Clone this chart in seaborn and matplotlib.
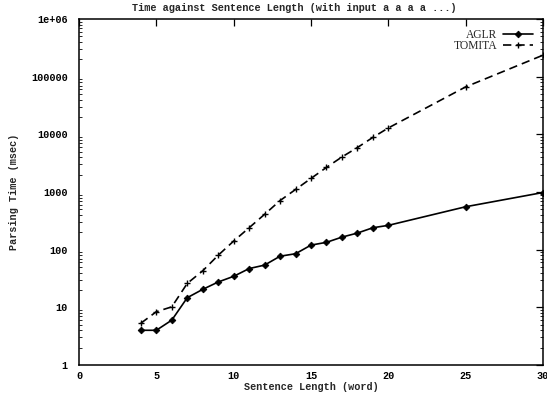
import matplotlib
matplotlib.use("Agg")
import matplotlib.pyplot as plt
import matplotlib.ticker as mticker
import seaborn as sns
import pandas as pd

# Sentence lengths (words) and parsing times (msec)
aglr_len = [4, 5, 6, 7, 8, 9, 10, 11, 12, 13, 14, 15, 16, 17, 18, 19, 20, 25, 30]
aglr_time = [4, 4, 6, 14.7, 20.5, 27.5, 34.5, 47, 54, 77, 85, 120, 134, 165, 194, 240, 264, 555, 980]

tomita_len = [4, 5, 6, 7, 8, 9, 10, 11, 12, 13, 14, 15, 16, 17, 18, 19, 20, 25, 30]
tomita_time = [5.3, 8.4, 10.2, 26, 43, 80, 141, 240, 410, 710, 1105, 1720, 2670, 4050, 5900, 8850, 12900, 66500, 236000]

x_ticks = [0, 5, 10, 15, 20, 25, 30]
y_ticks = [1, 10, 100, 1000, 10000, 100000, 1000000]
y_tick_labels = ["1", "10", "100", "1000", "10000", "100000", "1e+06"]

title = "Time against Sentence Length (with input a a a a ...)"
x_label = "Sentence Length (word)"
y_label = "Parsing Time (msec)"

sns.set_theme(style="white")
plt.rcParams["font.family"] = ["Liberation Mono", "DejaVu Sans Mono"]

aglr = pd.DataFrame({"len": aglr_len, "time": aglr_time})
tomita = pd.DataFrame({"len": tomita_len, "time": tomita_time})

fig = plt.figure(figsize=(5.47, 3.98), dpi=100)
ax = fig.add_axes([79 / 547, 1 - 365 / 398, (543 - 79) / 547, (365 - 19) / 398])

sns.lineplot(data=aglr, x="len", y="time", ax=ax, color="black", linewidth=1.2,
             marker="D", markersize=3.4, markeredgewidth=0.6,
             markeredgecolor="black", markerfacecolor="black", label="AGLR")
sns.lineplot(data=tomita, x="len", y="time", ax=ax, color="black", linewidth=1.2,
             linestyle=(0, (5, 3)), marker="+", markersize=4.5, markeredgewidth=1.0,
             markeredgecolor="black", label="TOMITA")

ax.set_yscale("log")
ax.set_xlim(0, 30)
ax.set_ylim(1, 1e6)
ax.set_xticks(x_ticks)
ax.set_xticklabels([str(t) for t in x_ticks])
ax.set_yticks(y_ticks)
ax.yaxis.set_major_formatter(mticker.FixedFormatter(y_tick_labels))
ax.yaxis.set_minor_locator(mticker.LogLocator(base=10, subs=range(2, 10), numticks=20))
ax.yaxis.set_minor_formatter(mticker.NullFormatter())

for side in ax.spines.values():
    side.set_color("black")
    side.set_linewidth(1.1)

ax.tick_params(axis="both", which="major", direction="in", length=5, width=0.9,
               top=True, right=True, labelsize=7.3, colors="black")
ax.tick_params(axis="y", which="major", pad=8)
ax.tick_params(axis="x", which="major", pad=4)
ax.tick_params(axis="y", which="minor", direction="in", length=2.5, width=0.7,
               left=True, right=True)
for lbl in ax.get_xticklabels() + ax.get_yticklabels():
    lbl.set_fontweight("bold")

ax.set_title(title, fontsize=7.4, fontweight="bold", pad=6, x=0.463)
ax.set_xlabel(x_label, fontsize=7.3, fontweight="bold", labelpad=1)
ax.set_ylabel(y_label, fontsize=7.3, fontweight="bold", labelpad=9)

# Legend entries stacked at the upper right, label text before the sample
handles, labels = ax.get_legend_handles_labels()
ax.get_legend().remove()
leg_font = {"family": "Liberation Serif", "size": 8.3}
leg1 = ax.legend([handles[0]], [labels[0]], loc="upper right", frameon=False,
                 markerfirst=False, handlelength=2.6, prop=leg_font,
                 bbox_to_anchor=(1.0, 1.0), borderaxespad=0.5, handletextpad=0.45)
ax.add_artist(leg1)
ax.legend([handles[1]], [labels[1]], loc="upper right", frameon=False,
          markerfirst=False, handlelength=2.6, prop=leg_font,
          bbox_to_anchor=(1.0, 1.0 - 11 / 346), borderaxespad=0.5, handletextpad=0.45)

fig.savefig("out.png", dpi=100)
